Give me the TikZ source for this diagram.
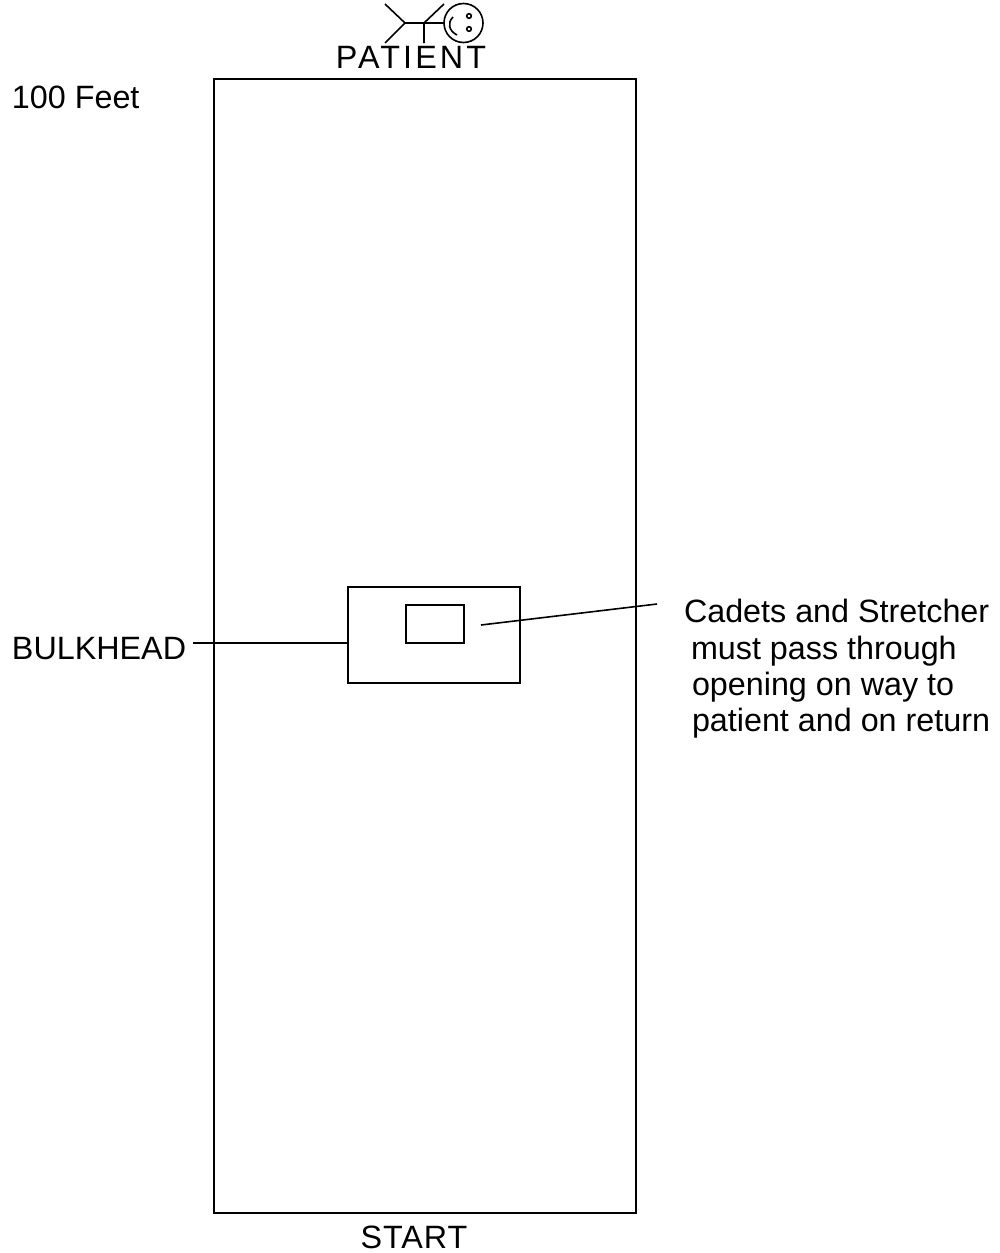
\documentclass[tikz,border=0pt]{standalone}
\usepackage{fontspec}
\setmainfont{Liberation Sans}
\usepackage{tikz}
\usetikzlibrary{positioning}
\newcommand{\lbltext}{\fontsize{32.3}{36}\selectfont}
\tikzset{
  wall/.style={draw,line width=1.6pt,inner sep=0pt,outer sep=0pt},
  lbl/.style={inner sep=0pt,outer sep=0pt,font=\lbltext},
  stick/.style={line width=1.6pt}
}
\begin{document}
\begin{tikzpicture}[x=1pt,y=-1pt]
\useasboundingbox (0,0) rectangle (999,1253);
\node[wall,minimum width=422pt,minimum height=1134pt] (field) at (425,646) {};
\node[wall,minimum width=172pt,minimum height=96pt] (bulkhead) at (434,635) {};
\node[wall,minimum width=58pt,minimum height=38pt] (opening) at (435,624) {};
\node[lbl,anchor=base] (patient) at (411,68) {\addfontfeature{LetterSpace=9.5}PATIENT};
\node[lbl,anchor=base] (start) at (414,1248) {\addfontfeature{LetterSpace=3}START};
\node[lbl,anchor=base west] (feet) at (12,108) {100 Feet};
\node[lbl,anchor=base west] (bulklabel) at (12,659) {BULKHEAD};
\node[lbl,anchor=base west] (note1) at (684,622) {Cadets and Stretcher};
\node[lbl,anchor=base west] (note2) at (691,659) {must pass through};
\node[lbl,anchor=base west] (note3) at (692,695) {opening on way to};
\node[lbl,anchor=base west] (note4) at (692,731) {patient and on return};
% leader lines
\coordinate (lead) at (193,643);
\coordinate (hole) at (481,625);
\coordinate (noteend) at (657,604);
\draw[stick] (lead)--(lead -| bulkhead.west);
\draw[stick] (hole)--(noteend);
% patient figure
\node[wall,circle,minimum size=39pt] (head) at (463.5,23) {};
\coordinate (hip) at (405,23);
\coordinate (chest) at (424,23);
\draw[stick] (hip)--(head.west);
\draw[stick] (385,4)--(hip)--(385,43);
\draw[stick] (444,4)--(chest)--(424,43);
\draw[stick] (453,17) .. controls (447,23) and (449,31) .. (457,35);
\draw[line width=1.6pt] (469,16) circle (2.3);
\draw[line width=1.6pt] (469,29) circle (2.3);
\end{tikzpicture}
\end{document}
